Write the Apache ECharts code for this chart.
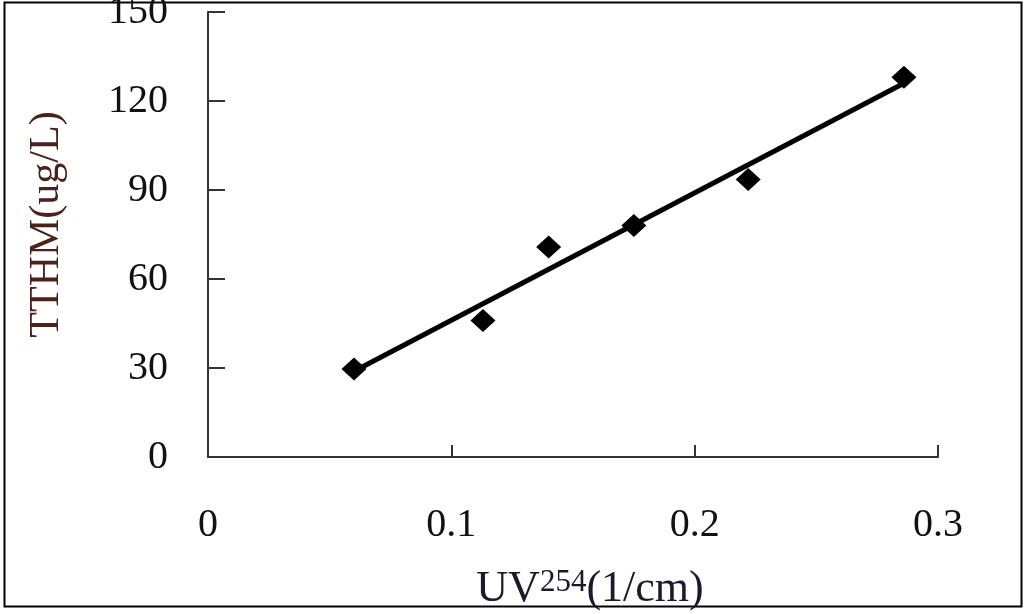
<!DOCTYPE html>
<html>
<head>
<meta charset="utf-8">
<script src="https://cdn.jsdelivr.net/npm/echarts@6/dist/echarts.min.js"></script>
<style>
  html, body { margin: 0; padding: 0; background: #fff; }
  #chart { width: 1025px; height: 614px; }
</style>
</head>
<body>
<div id="chart"></div>
<script>
// measured points (UV254 vs TTHM)
const uvValues = [0.060, 0.113, 0.140, 0.175, 0.222, 0.286];
const tthmValues = [29.7, 46.0, 70.8, 78.0, 93.5, 128.0];
// fitted line end points
const fitX = [0.060, 0.286];
const fitY = [28.9, 126.0];

const serif = "'Liberation Serif', 'DejaVu Serif', serif";

const chart = echarts.init(document.getElementById("chart"));

const option = {
  animation: false,
  backgroundColor: "#fff",
  grid: { left: 208, right: 87, top: 12, bottom: 157, outerBoundsMode: "none", containLabel: false },
  xAxis: {
    type: "value",
    min: 0,
    max: 0.3,
    interval: 0.1,
    splitLine: { show: false },
    axisLine: { show: true, lineStyle: { color: "#333", width: 2 } },
    axisTick: { show: true, inside: true, length: 12, lineStyle: { color: "#333", width: 2 } },
    axisLabel: {
      margin: 48,
      fontFamily: serif,
      fontSize: 40,
      color: "#111",
      formatter: (v) => (v === 0 ? "0" : v.toFixed(1))
    },
    name: "{a|UV}{b|254}{a|(1/cm)}",
    nameLocation: "middle",
    nameGap: 110,
    nameTextStyle: {
      padding: [0, 0, 0, 34],
      rich: {
        a: { fontFamily: serif, fontSize: 44, color: "#1a1a2a" },
        b: { fontFamily: serif, fontSize: 31, color: "#1a1a2a", padding: [0, 0, 12, 0] }
      }
    }
  },
  yAxis: {
    type: "value",
    min: 0,
    max: 150,
    interval: 30,
    splitLine: { show: false },
    axisLine: { show: true, lineStyle: { color: "#333", width: 2 } },
    axisTick: { show: true, inside: true, length: 17, lineStyle: { color: "#333", width: 2 } },
    axisLabel: {
      margin: 40,
      fontFamily: serif,
      fontSize: 40,
      color: "#111"
    },
    name: "TTHM(ug/L)",
    nameLocation: "middle",
    nameGap: 140,
    nameTextStyle: {
      fontFamily: serif,
      fontSize: 42,
      color: "#4b2219",
      padding: [0, 0, 0, 20]
    }
  },
  series: [
    {
      name: "fit",
      type: "line",
      data: fitX.map((x, i) => [x, fitY[i]]),
      symbol: "none",
      lineStyle: { color: "#000", width: 5 },
      z: 2
    },
    {
      name: "TTHM",
      type: "scatter",
      data: uvValues.map((x, i) => [x, tthmValues[i]]),
      symbol: "diamond",
      symbolSize: [25, 23],
      itemStyle: { color: "#000", opacity: 1 },
      z: 3
    }
  ],
  graphic: [
    {
      type: "rect",
      shape: { x: 4.5, y: 2.5, width: 1017, height: 604 },
      style: { fill: "none", stroke: "#000", lineWidth: 2 },
      silent: true
    }
  ]
};

chart.setOption(option);
</script>
</body>
</html>
